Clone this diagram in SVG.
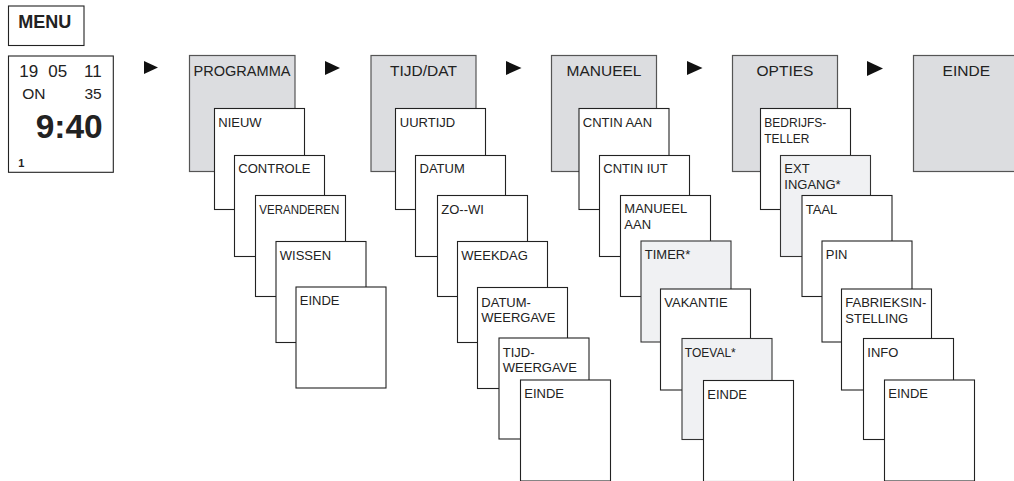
<svg xmlns="http://www.w3.org/2000/svg" width="1014" height="481" viewBox="0 0 1014 481">
<style>
text{font-family:"Liberation Sans",Arial,sans-serif;fill:#222}
.main{fill:#dcdde0;stroke:#555;stroke-width:1.2}
.sub{fill:#fff;stroke:#222;stroke-width:1.1}
.alt{fill:#f0f1f3;stroke:#333;stroke-width:1.1}
.frame{fill:#fff;stroke:#222;stroke-width:1.1}
.hd{font-size:15.5px;text-anchor:middle}
.lb{font-size:13px}
.arr{fill:#111}
</style>
<rect width="1014" height="481" fill="#fff"/>
<g id="menu"><rect class="frame" x="8.5" y="6" width="75.5" height="39.5"/><text x="18.3" y="28.3" style="font-size:18px;font-weight:bold">MENU</text></g>
<g id="display">
<rect class="frame" x="8.5" y="56" width="104.8" height="116.3"/>
<text x="19.3" y="77" style="font-size:17px">19</text>
<text x="48.3" y="77" style="font-size:17px">05</text>
<text x="101.7" y="77" style="font-size:17px;text-anchor:end">11</text>
<text x="22.3" y="99.3" style="font-size:15.5px">ON</text>
<text x="101.7" y="99.3" style="font-size:15.5px;text-anchor:end">35</text>
<text x="102.7" y="138" style="font-size:33.5px;font-weight:bold;text-anchor:end">9:40</text>
<text x="18.3" y="167.3" style="font-size:11px;font-weight:bold">1</text>
</g>
<g id="connectors">
<polygon class="arr" points="144,61 158,67.5 144,74"/>
<polygon class="arr" points="325,61 340,68 325,75"/>
<polygon class="arr" points="506,61 521.5,68 506,75"/>
<polygon class="arr" points="687,61 702.5,68 687,75"/>
<polygon class="arr" points="867,61 883,68.5 867,76"/>
</g>
<g id="programma">
<rect class="main" x="189.5" y="55.5" width="105.5" height="116"/><text class="hd" x="242" y="75.7" textLength="97" lengthAdjust="spacingAndGlyphs">PROGRAMMA</text>
<g id="p-nieuw"><rect class="sub" x="214.5" y="108.5" width="90" height="101"/><text class="lb" x="218.3" y="126.8">NIEUW</text></g>
<g id="p-controle"><rect class="sub" x="234.5" y="155.5" width="90" height="101"/><text class="lb" x="238.3" y="172.8">CONTROLE</text></g>
<g id="p-veranderen"><rect class="sub" x="255.5" y="195.5" width="90" height="101"/><text class="lb" x="259.3" y="213.5" textLength="80" lengthAdjust="spacingAndGlyphs">VERANDEREN</text></g>
<g id="p-wissen"><rect class="sub" x="276" y="241.5" width="90" height="101"/><text class="lb" x="279.8" y="259.5">WISSEN</text></g>
<g id="p-einde"><rect class="sub" x="296" y="287" width="90" height="101"/><text class="lb" x="299.8" y="305">EINDE</text></g>
</g>
<g id="tijddat">
<rect class="main" x="371" y="55.5" width="105" height="116"/><text class="hd" x="423.5" y="75.7">TIJD/DAT</text>
<g id="t-uurtijd"><rect class="sub" x="395.5" y="108.5" width="90" height="101"/><text class="lb" x="399.8" y="126.8">UURTIJD</text></g>
<g id="t-datum"><rect class="sub" x="415.5" y="155.5" width="90" height="101"/><text class="lb" x="419.5" y="172.8">DATUM</text></g>
<g id="t-zowi"><rect class="sub" x="437.5" y="195.5" width="90" height="101"/><text class="lb" x="441.3" y="213.5">ZO--WI</text></g>
<g id="t-weekdag"><rect class="sub" x="457.5" y="241.5" width="90" height="101"/><text class="lb" x="461.3" y="259.5">WEEKDAG</text></g>
<g id="t-datumweergave"><rect class="sub" x="477.5" y="287.5" width="90" height="101"/><text class="lb" x="481.3" y="306.7">DATUM-</text><text class="lb" x="481.3" y="321.7">WEERGAVE</text></g>
<g id="t-tijdweergave"><rect class="sub" x="499" y="338" width="90" height="101"/><text class="lb" x="502.8" y="356.5">TIJD-</text><text class="lb" x="502.8" y="371.5">WEERGAVE</text></g>
<g id="t-einde"><rect class="sub" x="520.5" y="380" width="90" height="101"/><text class="lb" x="524.3" y="398">EINDE</text></g>
</g>
<g id="manueel">
<rect class="main" x="551.5" y="55.5" width="105" height="116"/><text class="hd" x="604" y="75.7">MANUEEL</text>
<g id="m-cntinaan"><rect class="sub" x="579" y="108.5" width="90" height="101"/><text class="lb" x="582.8" y="126.8">CNTIN AAN</text></g>
<g id="m-cntiniut"><rect class="sub" x="599.5" y="155.5" width="90" height="101"/><text class="lb" x="603.3" y="172.8">CNTIN IUT</text></g>
<g id="m-manueelaan"><rect class="sub" x="620.5" y="195.5" width="90" height="101"/><text class="lb" x="624.3" y="213.3">MANUEEL</text><text class="lb" x="624.3" y="229">AAN</text></g>
<g id="m-timer"><rect class="alt" x="641" y="241" width="90" height="101"/><text class="lb" x="644.8" y="259.3">TIMER*</text></g>
<g id="m-vakantie"><rect class="sub" x="660.5" y="289" width="90" height="101"/><text class="lb" x="664.3" y="307">VAKANTIE</text></g>
<g id="m-toeval"><rect class="alt" x="682" y="338.5" width="90" height="101"/><text class="lb" x="684.8" y="356.7" textLength="51" lengthAdjust="spacingAndGlyphs">TOEVAL*</text></g>
<g id="m-einde"><rect class="sub" x="703.5" y="380.5" width="90" height="101"/><text class="lb" x="707.3" y="398.5">EINDE</text></g>
</g>
<g id="opties">
<rect class="main" x="732.5" y="55.5" width="105" height="116"/><text class="hd" x="785" y="75.7">OPTIES</text>
<g id="o-bedrijfsteller"><rect class="sub" x="760.5" y="108.5" width="90" height="101"/><text class="lb" x="764.3" y="126.7" textLength="62" lengthAdjust="spacingAndGlyphs">BEDRIJFS-</text><text class="lb" x="764.3" y="142.7" textLength="45" lengthAdjust="spacingAndGlyphs">TELLER</text></g>
<g id="o-extingang"><rect class="alt" x="780.5" y="155.5" width="90" height="101"/><text class="lb" x="784.3" y="172.8">EXT</text><text class="lb" x="784.3" y="188.5">INGANG*</text></g>
<g id="o-taal"><rect class="sub" x="802" y="195.5" width="90" height="101"/><text class="lb" x="805.8" y="213.5">TAAL</text></g>
<g id="o-pin"><rect class="sub" x="822" y="241" width="90" height="101"/><text class="lb" x="825.8" y="259.3">PIN</text></g>
<g id="o-fabrieksinstelling"><rect class="sub" x="841.5" y="289" width="90" height="101"/><text class="lb" x="845.3" y="307">FABRIEKSIN-</text><text class="lb" x="845.3" y="322.5">STELLING</text></g>
<g id="o-info"><rect class="sub" x="863.5" y="338.5" width="90" height="101"/><text class="lb" x="867.3" y="356.5">INFO</text></g>
<g id="o-einde"><rect class="sub" x="884.5" y="380" width="90" height="101"/><text class="lb" x="888.3" y="398">EINDE</text></g>
</g>
<g id="einde">
<rect class="main" x="913.5" y="55.5" width="105.5" height="116"/><text class="hd" x="966.3" y="75.7">EINDE</text>
</g>
</svg>
